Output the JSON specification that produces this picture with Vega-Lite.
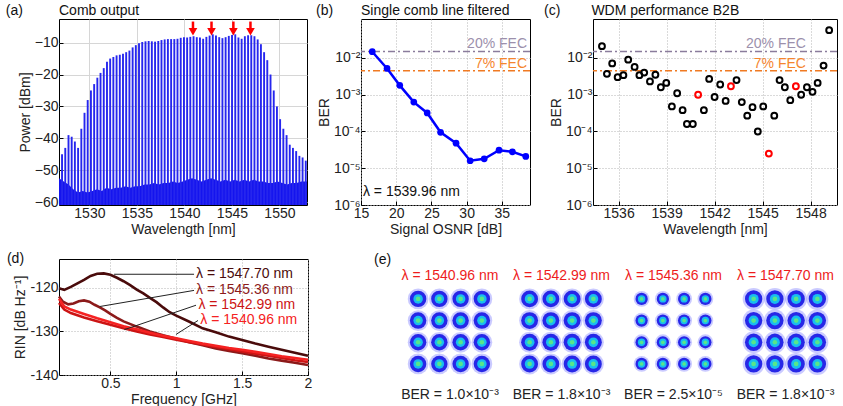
{
  "$schema": "https://vega.github.io/schema/vega-lite/v6.json",
  "padding": {"left": 5, "top": 3, "right": 0, "bottom": 0},
  "background": "white",
  "config": {
    "font": "Liberation Sans",
    "view": {"stroke": "#000", "strokeWidth": 1},
    "axis": {"labelFont": "Liberation Sans", "labelFontSize": 14, "titleFont": "Liberation Sans", "titleFontSize": 14, "titleFontWeight": "normal", "labelColor": "#222", "titleColor": "#222", "domain": false, "tickColor": "#000", "tickSize": -4, "labelPadding": 5, "titlePadding": 2, "gridColor": "#b5b5b5", "gridDash": [1, 2], "labelFlush": false, "labelOverlap": false},
    "text": {"font": "Liberation Sans", "fontSize": 14}
  },
  "datasets": {
    "spec": [
      {"x":1527.12,"y":-45},{"x":1527.46,"y":-43},{"x":1527.8,"y":-39},{"x":1528.135,"y":-39.5},{"x":1528.47,"y":-41},{"x":1528.81,"y":-43},{"x":1529.15,"y":-37},{"x":1529.485,"y":-32},{"x":1529.82,"y":-28},{"x":1530.16,"y":-25},{"x":1530.5,"y":-23},{"x":1530.835,"y":-21},{"x":1531.17,"y":-19.5},{"x":1531.51,"y":-18},{"x":1531.85,"y":-16},{"x":1532.185,"y":-15},{"x":1532.52,"y":-14.5},{"x":1532.86,"y":-14},{"x":1533.2,"y":-13.8},{"x":1533.535,"y":-13.5},{"x":1533.87,"y":-13},{"x":1534.21,"y":-12.5},{"x":1534.55,"y":-11.5},{"x":1534.885,"y":-10.8},{"x":1535.22,"y":-10.2},{"x":1535.56,"y":-9.8},{"x":1535.9,"y":-9.6},{"x":1536.235,"y":-9.5},{"x":1536.57,"y":-9.6},{"x":1536.91,"y":-9.7},{"x":1537.25,"y":-9.5},{"x":1537.585,"y":-9.2},{"x":1537.92,"y":-9.0},{"x":1538.26,"y":-8.9},{"x":1538.6,"y":-8.9},{"x":1538.935,"y":-8.9},{"x":1539.27,"y":-8.8},{"x":1539.61,"y":-8.5},{"x":1539.95,"y":-8.3},{"x":1540.285,"y":-8.4},{"x":1540.62,"y":-8.2},{"x":1540.96,"y":-8.0},{"x":1541.3,"y":-8.3},{"x":1541.635,"y":-8.4},{"x":1541.97,"y":-8.8},{"x":1542.31,"y":-8.2},{"x":1542.65,"y":-7.8},{"x":1542.985,"y":-7.4},{"x":1543.32,"y":-7.8},{"x":1543.66,"y":-8.3},{"x":1544.0,"y":-8.6},{"x":1544.335,"y":-8.3},{"x":1544.67,"y":-7.9},{"x":1545.01,"y":-7.6},{"x":1545.35,"y":-7.4},{"x":1545.685,"y":-8.4},{"x":1546.02,"y":-8.8},{"x":1546.36,"y":-8.0},{"x":1546.7,"y":-7.7},{"x":1547.035,"y":-7.7},{"x":1547.37,"y":-8.0},{"x":1547.71,"y":-9.0},{"x":1548.05,"y":-10.5},{"x":1548.385,"y":-13},{"x":1548.72,"y":-15.5},{"x":1549.06,"y":-20},{"x":1549.4,"y":-25},{"x":1549.735,"y":-30},{"x":1550.07,"y":-34},{"x":1550.41,"y":-37},{"x":1550.75,"y":-39},{"x":1551.085,"y":-42},{"x":1551.42,"y":-43},{"x":1551.76,"y":-44},{"x":1552.1,"y":-45.5},{"x":1552.435,"y":-46},{"x":1552.77,"y":-47}
    ],
    "floor": [
      {"x":1526.8,"y":-52.5},{"x":1527.3,"y":-53.5},{"x":1527.8,"y":-54.5},{"x":1528.3,"y":-56},{"x":1528.8,"y":-57},{"x":1529.3,"y":-56.5},{"x":1529.8,"y":-57},{"x":1530.3,"y":-56.5},{"x":1530.8,"y":-56},{"x":1531.3,"y":-56.5},{"x":1531.8,"y":-55.5},{"x":1532.3,"y":-56},{"x":1532.8,"y":-55.5},{"x":1533.3,"y":-55.5},{"x":1533.8,"y":-55},{"x":1534.3,"y":-55.5},{"x":1534.8,"y":-55},{"x":1535.3,"y":-55},{"x":1535.8,"y":-54.5},{"x":1536.3,"y":-54.5},{"x":1536.8,"y":-54},{"x":1537.3,"y":-54.5},{"x":1537.8,"y":-54},{"x":1538.3,"y":-54},{"x":1538.8,"y":-53.5},{"x":1539.3,"y":-54},{"x":1539.8,"y":-53.5},{"x":1540.3,"y":-53},{"x":1540.8,"y":-52.5},{"x":1541.3,"y":-53},{"x":1541.8,"y":-53.5},{"x":1542.3,"y":-53},{"x":1542.8,"y":-52.5},{"x":1543.3,"y":-53},{"x":1543.8,"y":-53.5},{"x":1544.3,"y":-53},{"x":1544.8,"y":-53.5},{"x":1545.3,"y":-53},{"x":1545.8,"y":-53.5},{"x":1546.3,"y":-53},{"x":1546.8,"y":-53.5},{"x":1547.3,"y":-53},{"x":1547.8,"y":-53.5},{"x":1548.3,"y":-53.5},{"x":1548.8,"y":-54},{"x":1549.3,"y":-54},{"x":1549.8,"y":-53.5},{"x":1550.3,"y":-54},{"x":1550.8,"y":-54.5},{"x":1551.3,"y":-54},{"x":1551.8,"y":-54},{"x":1552.3,"y":-53.5},{"x":1552.9,"y":-53.5}
    ],
    "arrows": [{"x":1540.9},{"x":1542.85},{"x":1545.15},{"x":1546.95}],
    "fec": [{"name":"20% FEC","y":0.015},{"name":"7% FEC","y":0.0045}],
    "osnr": [
      {"x":16.6,"y":0.0148},{"x":18.7,"y":0.0052},{"x":20.5,"y":0.0018},{"x":22.5,"y":0.00063},{"x":24.4,"y":0.00032},{"x":26.3,"y":0.000095},{"x":28.5,"y":0.000048},{"x":30.5,"y":0.000016},{"x":32.5,"y":0.000018},{"x":34.6,"y":0.000031},{"x":36.5,"y":0.000028},{"x":38.4,"y":0.000021}
    ],
    "wdm": [
      {"x":1534.96,"y":0.021,"sel":"n"},{"x":1535.27,"y":0.0037,"sel":"n"},{"x":1535.6,"y":0.0071,"sel":"n"},{"x":1535.94,"y":0.003,"sel":"n"},{"x":1536.3,"y":0.0034,"sel":"n"},{"x":1536.6,"y":0.009,"sel":"n"},{"x":1537.0,"y":0.0057,"sel":"n"},{"x":1537.3,"y":0.0034,"sel":"n"},{"x":1537.6,"y":0.004,"sel":"n"},{"x":1537.96,"y":0.0023,"sel":"n"},{"x":1538.3,"y":0.0035,"sel":"n"},{"x":1538.64,"y":0.0016,"sel":"n"},{"x":1538.98,"y":0.0021,"sel":"n"},{"x":1539.33,"y":0.00048,"sel":"n"},{"x":1539.66,"y":0.0011,"sel":"n"},{"x":1540.0,"y":0.00038,"sel":"n"},{"x":1540.27,"y":0.00016,"sel":"n"},{"x":1540.64,"y":0.00016,"sel":"n"},{"x":1540.97,"y":0.001,"sel":"r"},{"x":1541.33,"y":0.00038,"sel":"n"},{"x":1541.66,"y":0.0027,"sel":"n"},{"x":1542.0,"y":0.00087,"sel":"n"},{"x":1542.35,"y":0.0019,"sel":"n"},{"x":1542.69,"y":0.00068,"sel":"n"},{"x":1543.02,"y":0.0017,"sel":"r"},{"x":1543.37,"y":0.0025,"sel":"n"},{"x":1543.7,"y":0.00063,"sel":"n"},{"x":1544.04,"y":0.00027,"sel":"n"},{"x":1544.37,"y":0.00046,"sel":"n"},{"x":1544.7,"y":0.0001,"sel":"n"},{"x":1545.04,"y":0.00048,"sel":"n"},{"x":1545.39,"y":0.000025,"sel":"r"},{"x":1545.73,"y":0.00027,"sel":"n"},{"x":1546.06,"y":0.0025,"sel":"n"},{"x":1546.39,"y":0.0016,"sel":"n"},{"x":1546.73,"y":0.00071,"sel":"n"},{"x":1547.08,"y":0.0017,"sel":"r"},{"x":1547.41,"y":0.001,"sel":"n"},{"x":1547.77,"y":0.0016,"sel":"n"},{"x":1548.12,"y":0.0012,"sel":"n"},{"x":1548.44,"y":0.0021,"sel":"n"},{"x":1548.81,"y":0.0062,"sel":"n"},{"x":1549.16,"y":0.057,"sel":"n"}
    ],
    "rin": [
      {"s":"1547.70","x":0.11,"y":-120.1},{"s":"1547.70","x":0.15,"y":-120.5},{"s":"1547.70","x":0.2,"y":-119.8},{"s":"1547.70","x":0.25,"y":-119.0},{"s":"1547.70","x":0.3,"y":-118.2},{"s":"1547.70","x":0.35,"y":-117.3},{"s":"1547.70","x":0.4,"y":-116.8},{"s":"1547.70","x":0.45,"y":-116.7},{"s":"1547.70","x":0.5,"y":-117.0},{"s":"1547.70","x":0.55,"y":-117.7},{"s":"1547.70","x":0.6,"y":-118.5},{"s":"1547.70","x":0.65,"y":-119.4},{"s":"1547.70","x":0.7,"y":-120.4},{"s":"1547.70","x":0.75,"y":-121.3},{"s":"1547.70","x":0.8,"y":-122.3},{"s":"1547.70","x":0.85,"y":-123.3},{"s":"1547.70","x":0.9,"y":-124.5},{"s":"1547.70","x":0.95,"y":-125.6},{"s":"1547.70","x":1.0,"y":-126.4},{"s":"1547.70","x":1.1,"y":-127.8},{"s":"1547.70","x":1.2,"y":-129.3},{"s":"1547.70","x":1.3,"y":-130.2},{"s":"1547.70","x":1.4,"y":-131.2},{"s":"1547.70","x":1.5,"y":-132.0},{"s":"1547.70","x":1.6,"y":-132.8},{"s":"1547.70","x":1.7,"y":-133.5},{"s":"1547.70","x":1.8,"y":-134.2},{"s":"1547.70","x":1.9,"y":-134.9},{"s":"1547.70","x":2.0,"y":-135.6},
      {"s":"1545.36","x":0.11,"y":-122.0},{"s":"1545.36","x":0.14,"y":-123.2},{"s":"1545.36","x":0.18,"y":-123.8},{"s":"1545.36","x":0.22,"y":-123.6},{"s":"1545.36","x":0.26,"y":-123.1},{"s":"1545.36","x":0.3,"y":-122.9},{"s":"1545.36","x":0.34,"y":-123.2},{"s":"1545.36","x":0.38,"y":-123.9},{"s":"1545.36","x":0.42,"y":-124.5},{"s":"1545.36","x":0.46,"y":-125.2},{"s":"1545.36","x":0.5,"y":-126.0},{"s":"1545.36","x":0.55,"y":-126.9},{"s":"1545.36","x":0.6,"y":-127.7},{"s":"1545.36","x":0.7,"y":-128.9},{"s":"1545.36","x":0.8,"y":-130.0},{"s":"1545.36","x":0.9,"y":-130.9},{"s":"1545.36","x":1.0,"y":-131.7},{"s":"1545.36","x":1.1,"y":-132.5},{"s":"1545.36","x":1.2,"y":-133.2},{"s":"1545.36","x":1.3,"y":-133.9},{"s":"1545.36","x":1.4,"y":-134.5},{"s":"1545.36","x":1.5,"y":-135.0},{"s":"1545.36","x":1.6,"y":-135.6},{"s":"1545.36","x":1.7,"y":-136.2},{"s":"1545.36","x":1.8,"y":-136.7},{"s":"1545.36","x":1.9,"y":-137.2},{"s":"1545.36","x":2.0,"y":-137.7},
      {"s":"1542.99","x":0.11,"y":-123.5},{"s":"1542.99","x":0.15,"y":-125.0},{"s":"1542.99","x":0.2,"y":-125.8},{"s":"1542.99","x":0.3,"y":-126.8},{"s":"1542.99","x":0.4,"y":-127.7},{"s":"1542.99","x":0.5,"y":-128.5},{"s":"1542.99","x":0.6,"y":-129.3},{"s":"1542.99","x":0.7,"y":-130.0},{"s":"1542.99","x":0.8,"y":-130.7},{"s":"1542.99","x":0.9,"y":-131.3},{"s":"1542.99","x":1.0,"y":-131.9},{"s":"1542.99","x":1.1,"y":-132.5},{"s":"1542.99","x":1.2,"y":-133.0},{"s":"1542.99","x":1.3,"y":-133.6},{"s":"1542.99","x":1.4,"y":-134.1},{"s":"1542.99","x":1.5,"y":-134.6},{"s":"1542.99","x":1.6,"y":-135.1},{"s":"1542.99","x":1.7,"y":-135.6},{"s":"1542.99","x":1.8,"y":-136.1},{"s":"1542.99","x":1.9,"y":-136.6},{"s":"1542.99","x":2.0,"y":-137.0},
      {"s":"1540.96","x":0.11,"y":-122.5},{"s":"1540.96","x":0.15,"y":-124.3},{"s":"1540.96","x":0.2,"y":-125.0},{"s":"1540.96","x":0.3,"y":-126.0},{"s":"1540.96","x":0.4,"y":-127.0},{"s":"1540.96","x":0.5,"y":-127.9},{"s":"1540.96","x":0.6,"y":-128.8},{"s":"1540.96","x":0.7,"y":-129.5},{"s":"1540.96","x":0.8,"y":-130.3},{"s":"1540.96","x":0.9,"y":-131.0},{"s":"1540.96","x":1.0,"y":-131.6},{"s":"1540.96","x":1.1,"y":-132.2},{"s":"1540.96","x":1.2,"y":-132.8},{"s":"1540.96","x":1.3,"y":-133.3},{"s":"1540.96","x":1.4,"y":-133.8},{"s":"1540.96","x":1.5,"y":-134.2},{"s":"1540.96","x":1.6,"y":-134.7},{"s":"1540.96","x":1.7,"y":-135.2},{"s":"1540.96","x":1.8,"y":-135.7},{"s":"1540.96","x":1.9,"y":-136.1},{"s":"1540.96","x":2.0,"y":-136.5}
    ],
    "leaders": [
      {"x":0.528,"y":-116.9,"x2":1.135,"y2":-116.9},
      {"x":0.419,"y":-124.3,"x2":1.135,"y2":-120.6},
      {"x":0.606,"y":-129.6,"x2":1.15,"y2":-124.0},
      {"x":0.998,"y":-130.7,"x2":1.165,"y2":-127.5}
    ],
    "rinlab": [
      {"s":"1547.70","t":"λ = 1547.70 nm","x":1.15,"y":-116.9},
      {"s":"1545.36","t":"λ = 1545.36 nm","x":1.15,"y":-120.6},
      {"s":"1542.99","t":"λ = 1542.99 nm","x":1.168,"y":-124.0},
      {"s":"1540.96","t":"λ = 1540.96 nm","x":1.183,"y":-127.5}
    ],
    "qam": [
      {"i":-1.5,"q":1.5},{"i":-0.5,"q":1.5},{"i":0.5,"q":1.5},{"i":1.5,"q":1.5},
      {"i":-1.5,"q":0.5},{"i":-0.5,"q":0.5},{"i":0.5,"q":0.5},{"i":1.5,"q":0.5},
      {"i":-1.5,"q":-0.5},{"i":-0.5,"q":-0.5},{"i":0.5,"q":-0.5},{"i":1.5,"q":-0.5},
      {"i":-1.5,"q":-1.5},{"i":-0.5,"q":-1.5},{"i":0.5,"q":-1.5},{"i":1.5,"q":-1.5}
    ],
    "elab": [
      {"g":1,"lam":"λ = 1540.96 nm","ber":"BER = 1.0×10⁻³"},
      {"g":2,"lam":"λ = 1542.99 nm","ber":"BER = 1.8×10⁻³"},
      {"g":3,"lam":"λ = 1545.36 nm","ber":"BER = 2.5×10⁻⁵"},
      {"g":4,"lam":"λ = 1547.70 nm","ber":"BER = 1.8×10⁻³"}
    ]
  },
  "bounds": "flush",
  "columns": 5,
  "align": "each",
  "spacing": {"row": 54, "column": 0},
  "concat": [
    {
      "width": 248, "height": 186,
      "layer": [
        {"data": {"name": "floor"}, "mark": {"type": "area", "color": "#1414ee", "opacity": 1},
         "encoding": {
           "x": {"field": "x", "type": "quantitative", "scale": {"domain": [1526.8, 1552.9], "nice": false, "zero": false}, "axis": {"title": "Wavelength [nm]", "values": [1530, 1535, 1540, 1545, 1550], "format": "d", "grid": true, "gridDash": [], "gridColor": "#d6d6d6"}},
           "y": {"field": "y", "type": "quantitative", "scale": {"domain": [-60.9, -2.6], "nice": false, "zero": false}, "axis": {"title": "Power [dBm]", "values": [-60, -50, -40, -30, -20, -10], "tickCount": 6, "format": "d", "labelOverlap": false, "grid": true, "gridDash": [], "gridColor": "#d6d6d6"}},
           "y2": {"datum": -60.9}}},
        {"data": {"name": "spec"}, "mark": {"type": "rule", "color": "#2626ee", "strokeWidth": 1.9},
         "encoding": {
           "x": {"field": "x", "type": "quantitative", "axis": {"title": "Wavelength [nm]", "values": [1530, 1535, 1540, 1545, 1550], "format": "d", "grid": true, "gridDash": [], "gridColor": "#d6d6d6"}},
           "y": {"field": "y", "type": "quantitative", "axis": {"title": "Power [dBm]", "values": [-60, -50, -40, -30, -20, -10], "tickCount": 6, "format": "d", "labelOverlap": false, "grid": true, "gridDash": [], "gridColor": "#d6d6d6"}},
           "y2": {"datum": -60.9}}},
        {"data": {"name": "arrows"}, "mark": {"type": "rule", "color": "#ff0000", "strokeWidth": 2.5},
         "encoding": {"x": {"field": "x", "type": "quantitative", "axis": {"title": "Wavelength [nm]", "values": [1530, 1535, 1540, 1545, 1550], "format": "d", "grid": true, "gridDash": [], "gridColor": "#d6d6d6"}}, "y": {"datum": -3.4}, "y2": {"datum": -6.0}}},
        {"data": {"name": "arrows"}, "mark": {"type": "point", "shape": "triangle-down", "filled": true, "color": "#ff0000", "opacity": 1, "size": 75},
         "encoding": {"x": {"field": "x", "type": "quantitative", "axis": {"title": "Wavelength [nm]", "values": [1530, 1535, 1540, 1545, 1550], "format": "d", "grid": true, "gridDash": [], "gridColor": "#d6d6d6"}}, "y": {"datum": -6.6}}},
        {"data": {"values": [{"t": "(a)"}]}, "mark": {"type": "text", "align": "left", "baseline": "middle", "color": "#111"}, "encoding": {"x": {"datum": 1521.2}, "y": {"datum": -0.1}, "text": {"field": "t"}}},
        {"data": {"values": [{"t": "Comb output"}]}, "mark": {"type": "text", "align": "left", "baseline": "middle", "color": "#111"}, "encoding": {"x": {"datum": 1526.8}, "y": {"datum": -0.1}, "text": {"field": "t"}}}
      ]
    },
    {"width": 53, "height": 186, "view": {"stroke": null}, "data": {"values": []}, "mark": "point"},
    {
      "width": 169, "height": 186,
      "layer": [
        {"data": {"name": "fec"}, "transform": [{"filter": "datum.name == '20% FEC'"}], "mark": {"type": "rule", "color": "#8a7c9c", "strokeWidth": 1.5, "strokeDash": [7, 3, 2, 3]}, "encoding": {"y": {"field": "y", "type": "quantitative", "title": "BER"}}},
        {"data": {"name": "fec"}, "transform": [{"filter": "datum.name == '7% FEC'"}], "mark": {"type": "rule", "color": "#f07a22", "strokeWidth": 1.5, "strokeDash": [7, 3, 2, 3]}, "encoding": {"y": {"field": "y", "type": "quantitative", "title": "BER"}}},
        {"data": {"name": "fec"}, "transform": [{"filter": "datum.name == '20% FEC'"}], "mark": {"type": "text", "align": "right", "baseline": "alphabetic", "dy": -4, "color": "#9c90ac"}, "encoding": {"x": {"datum": 38.58}, "y": {"field": "y", "type": "quantitative", "title": "BER"}, "text": {"field": "name"}}},
        {"data": {"name": "fec"}, "transform": [{"filter": "datum.name == '7% FEC'"}], "mark": {"type": "text", "align": "right", "baseline": "alphabetic", "dy": -3, "color": "#f5852e"}, "encoding": {"x": {"datum": 38.58}, "y": {"field": "y", "type": "quantitative", "title": "BER"}, "text": {"field": "name"}}},
        {
          "data": {"name": "osnr"},
          "mark": {"type": "line", "color": "#0000ff", "strokeWidth": 2.5, "point": {"filled": true, "size": 45, "color": "#0000ff"}},
          "encoding": {
            "x": {"field": "x", "type": "quantitative", "scale": {"domain": [15, 39], "nice": false, "zero": false}, "axis": {"title": "Signal OSNR [dB]", "values": [15, 20, 25, 30, 35], "grid": true}},
            "y": {"field": "y", "type": "quantitative", "title": "BER", "scale": {"type": "log", "domain": [0.000001, 0.115], "nice": false}, "axis": {"values": [0.000001, 0.00001, 0.0001, 0.001, 0.01], "grid": true, "labelExpr": "datum.value > 0.005 ? '10⁻²' : datum.value > 0.0005 ? '10⁻³' : datum.value > 0.00005 ? '10⁻⁴' : datum.value > 0.000005 ? '10⁻⁵' : '10⁻⁶'"}}
          }
        },
        {"data": {"values": [{"t": "λ = 1539.96 nm"}]}, "mark": {"type": "text", "align": "left", "baseline": "middle", "color": "#111"}, "encoding": {"x": {"datum": 15.28}, "y": {"datum": 0.00000226}, "text": {"field": "t"}}},
        {"data": {"values": [{"t": "(b)"}]}, "mark": {"type": "text", "align": "left", "baseline": "middle", "color": "#111"}, "encoding": {"x": {"datum": 8.61}, "y": {"datum": 0.19}, "text": {"field": "t"}}},
        {"data": {"values": [{"t": "Single comb line filtered"}]}, "mark": {"type": "text", "align": "left", "baseline": "middle", "color": "#111"}, "encoding": {"x": {"datum": 15}, "y": {"datum": 0.19}, "text": {"field": "t"}}}
      ]
    },
    {"width": 63, "height": 186, "view": {"stroke": null}, "data": {"values": []}, "mark": "point"},
    {
      "width": 244, "height": 186,
      "layer": [
        {"data": {"name": "fec"}, "transform": [{"filter": "datum.name == '20% FEC'"}], "mark": {"type": "rule", "color": "#8a7c9c", "strokeWidth": 1.5, "strokeDash": [7, 3, 2, 3]}, "encoding": {"y": {"field": "y", "type": "quantitative", "title": "BER"}}},
        {"data": {"name": "fec"}, "transform": [{"filter": "datum.name == '7% FEC'"}], "mark": {"type": "rule", "color": "#f07a22", "strokeWidth": 1.5, "strokeDash": [7, 3, 2, 3]}, "encoding": {"y": {"field": "y", "type": "quantitative", "title": "BER"}}},
        {"data": {"name": "fec"}, "transform": [{"filter": "datum.name == '20% FEC'"}], "mark": {"type": "text", "align": "right", "baseline": "alphabetic", "dy": -4, "color": "#9c90ac"}, "encoding": {"x": {"datum": 1547.71}, "y": {"field": "y", "type": "quantitative", "title": "BER"}, "text": {"field": "name"}}},
        {"data": {"name": "fec"}, "transform": [{"filter": "datum.name == '7% FEC'"}], "mark": {"type": "text", "align": "right", "baseline": "alphabetic", "dy": -3, "color": "#f5852e"}, "encoding": {"x": {"datum": 1547.71}, "y": {"field": "y", "type": "quantitative", "title": "BER"}, "text": {"field": "name"}}},
        {
          "data": {"name": "wdm"},
          "transform": [{"filter": "datum.sel == 'n'"}],
          "mark": {"type": "point", "filled": false, "color": "#000", "strokeWidth": 2, "size": 34, "opacity": 1},
          "encoding": {
            "x": {"field": "x", "type": "quantitative", "scale": {"domain": [1534.4, 1549.65], "nice": false, "zero": false}, "axis": {"title": "Wavelength [nm]", "values": [1536, 1539, 1542, 1545, 1548], "format": "d", "grid": true}},
            "y": {"field": "y", "type": "quantitative", "title": "BER", "scale": {"type": "log", "domain": [0.000001, 0.115], "nice": false}, "axis": {"values": [0.000001, 0.00001, 0.0001, 0.001, 0.01], "grid": true, "labelExpr": "datum.value > 0.005 ? '10⁻²' : datum.value > 0.0005 ? '10⁻³' : datum.value > 0.00005 ? '10⁻⁴' : datum.value > 0.000005 ? '10⁻⁵' : '10⁻⁶'"}}
          }
        },
        {
          "data": {"name": "wdm"},
          "transform": [{"filter": "datum.sel == 'r'"}],
          "mark": {"type": "point", "filled": false, "color": "#ff0000", "strokeWidth": 2, "size": 34, "opacity": 1},
          "encoding": {
            "x": {"field": "x", "type": "quantitative", "title": "Wavelength [nm]"},
            "y": {"field": "y", "type": "quantitative", "title": "BER"}
          }
        },
        {"data": {"values": [{"t": "(c)"}]}, "mark": {"type": "text", "align": "left", "baseline": "middle", "color": "#111"}, "encoding": {"x": {"datum": 1531.34}, "y": {"datum": 0.19}, "text": {"field": "t"}}},
        {"data": {"values": [{"t": "WDM performance B2B"}]}, "mark": {"type": "text", "align": "left", "baseline": "middle", "color": "#111"}, "encoding": {"x": {"datum": 1534.3}, "y": {"datum": 0.19}, "text": {"field": "t"}}}
      ]
    },
    {
      "width": 249, "height": 116,
      "layer": [
        {"data": {"name": "rin"}, "mark": {"type": "line", "strokeWidth": 2.6},
         "encoding": {
           "x": {"field": "x", "type": "quantitative", "scale": {"domain": [0.11, 2.0], "nice": false, "zero": false}, "axis": {"title": "Frequency [GHz]", "values": [0.5, 1, 1.5, 2], "format": "~g", "grid": true}},
           "y": {"field": "y", "type": "quantitative", "scale": {"domain": [-140, -113.4], "nice": false, "zero": false}, "axis": {"title": "RIN [dB Hz⁻¹]", "values": [-140, -130, -120], "labelExpr": "'' + datum.value", "labelOverlap": false, "grid": true}},
           "color": {"field": "s", "type": "nominal", "scale": {"domain": ["1547.70", "1545.36", "1542.99", "1540.96"], "range": ["#4a0b0b", "#8c1a1a", "#cc1414", "#f52222"]}, "legend": null},
           "order": {"field": "x", "type": "quantitative"}}},
        {"data": {"name": "leaders"}, "mark": {"type": "rule", "color": "#222", "strokeWidth": 1},
         "encoding": {"x": {"field": "x", "type": "quantitative", "title": "Frequency [GHz]"}, "y": {"field": "y", "type": "quantitative", "title": "RIN [dB Hz⁻¹]"}, "x2": {"field": "x2"}, "y2": {"field": "y2"}}},
        {"data": {"name": "rinlab"}, "mark": {"type": "text", "align": "left", "baseline": "middle"},
         "encoding": {"x": {"field": "x", "type": "quantitative", "title": "Frequency [GHz]"}, "y": {"field": "y", "type": "quantitative", "title": "RIN [dB Hz⁻¹]"}, "text": {"field": "t"}, "color": {"field": "s", "type": "nominal", "legend": null}}},
        {"data": {"values": [{"t": "(d)"}]}, "mark": {"type": "text", "align": "left", "baseline": "middle", "color": "#111"}, "encoding": {"x": {"datum": -0.285}, "y": {"datum": -113.4}, "text": {"field": "t"}}}
      ]
    },
    {
      "width": 53, "height": 116, "view": {"stroke": null},
      "layer": [
        {"data": {"name": "qam"}, "mark": {"type": "circle", "color": "#5050ff", "opacity": 0.3, "size": 430},
         "encoding": {"x": {"field": "i", "type": "quantitative", "scale": {"domain": [-6.682, -4.188], "nice": false, "zero": false}, "axis": null}, "y": {"field": "q", "type": "quantitative", "scale": {"domain": [-2.01, 3.34], "nice": false, "zero": false}, "axis": null}}},
        {"data": {"name": "qam"}, "mark": {"type": "circle", "color": "#1e1ee6", "opacity": 0.95, "size": 270}, "encoding": {"x": {"field": "i", "type": "quantitative"}, "y": {"field": "q", "type": "quantitative"}}},
        {"data": {"name": "qam"}, "mark": {"type": "circle", "color": "#18bdf0", "opacity": 1, "size": 90}, "encoding": {"x": {"field": "i", "type": "quantitative"}, "y": {"field": "q", "type": "quantitative"}}},
        {"data": {"name": "qam"}, "mark": {"type": "circle", "color": "#58e68a", "opacity": 1, "size": 22}, "encoding": {"x": {"field": "i", "type": "quantitative"}, "y": {"field": "q", "type": "quantitative"}}},
        {"data": {"name": "elab"}, "transform": [{"filter": "datum.g == 1"}], "mark": {"type": "text", "color": "#ee1c1c", "baseline": "middle"}, "encoding": {"x": {"datum": 0}, "y": {"datum": 2.56}, "text": {"field": "lam"}}},
        {"data": {"name": "elab"}, "transform": [{"filter": "datum.g == 1"}], "mark": {"type": "text", "color": "#222", "baseline": "middle"}, "encoding": {"x": {"datum": 0}, "y": {"datum": -2.93}, "text": {"field": "ber"}}},
        {"data": {"values": [{"t": "(e)"}]}, "mark": {"type": "text", "align": "left", "baseline": "middle", "color": "#111"}, "encoding": {"x": {"datum": -3.576}, "y": {"datum": 3.29}, "text": {"field": "t"}}}
      ]
    },
    {
      "width": 169, "height": 116, "view": {"stroke": null},
      "layer": [
        {"data": {"name": "qam"}, "mark": {"type": "circle", "color": "#5050ff", "opacity": 0.3, "size": 440},
         "encoding": {"x": {"field": "i", "type": "quantitative", "scale": {"domain": [-9.435, -1.482], "nice": false, "zero": false}, "axis": null}, "y": {"field": "q", "type": "quantitative", "scale": {"domain": [-2.01, 3.34], "nice": false, "zero": false}, "axis": null}}},
        {"data": {"name": "qam"}, "mark": {"type": "circle", "color": "#1e1ee6", "opacity": 0.95, "size": 285}, "encoding": {"x": {"field": "i", "type": "quantitative"}, "y": {"field": "q", "type": "quantitative"}}},
        {"data": {"name": "qam"}, "mark": {"type": "circle", "color": "#18bdf0", "opacity": 1, "size": 95}, "encoding": {"x": {"field": "i", "type": "quantitative"}, "y": {"field": "q", "type": "quantitative"}}},
        {"data": {"name": "qam"}, "mark": {"type": "circle", "color": "#58e68a", "opacity": 1, "size": 22}, "encoding": {"x": {"field": "i", "type": "quantitative"}, "y": {"field": "q", "type": "quantitative"}}},
        {"data": {"name": "elab"}, "transform": [{"filter": "datum.g == 2"}], "mark": {"type": "text", "color": "#ee1c1c", "baseline": "middle"}, "encoding": {"x": {"datum": 0}, "y": {"datum": 2.56}, "text": {"field": "lam"}}},
        {"data": {"name": "elab"}, "transform": [{"filter": "datum.g == 2"}], "mark": {"type": "text", "color": "#222", "baseline": "middle"}, "encoding": {"x": {"datum": 0}, "y": {"datum": -2.93}, "text": {"field": "ber"}}}
      ]
    },
    {
      "width": 63, "height": 116, "view": {"stroke": null},
      "layer": [
        {"data": {"name": "qam"}, "mark": {"type": "circle", "color": "#5050ff", "opacity": 0.3, "size": 250},
         "encoding": {"x": {"field": "i", "type": "quantitative", "scale": {"domain": [-6.753, -3.788], "nice": false, "zero": false}, "axis": null}, "y": {"field": "q", "type": "quantitative", "scale": {"domain": [-2.01, 3.34], "nice": false, "zero": false}, "axis": null}}},
        {"data": {"name": "qam"}, "mark": {"type": "circle", "color": "#1e1ee6", "opacity": 0.95, "size": 150}, "encoding": {"x": {"field": "i", "type": "quantitative"}, "y": {"field": "q", "type": "quantitative"}}},
        {"data": {"name": "qam"}, "mark": {"type": "circle", "color": "#18bdf0", "opacity": 1, "size": 55}, "encoding": {"x": {"field": "i", "type": "quantitative"}, "y": {"field": "q", "type": "quantitative"}}},
        {"data": {"name": "qam"}, "mark": {"type": "circle", "color": "#58e68a", "opacity": 1, "size": 14}, "encoding": {"x": {"field": "i", "type": "quantitative"}, "y": {"field": "q", "type": "quantitative"}}},
        {"data": {"name": "elab"}, "transform": [{"filter": "datum.g == 3"}], "mark": {"type": "text", "color": "#ee1c1c", "baseline": "middle"}, "encoding": {"x": {"datum": 0}, "y": {"datum": 2.56}, "text": {"field": "lam"}}},
        {"data": {"name": "elab"}, "transform": [{"filter": "datum.g == 3"}], "mark": {"type": "text", "color": "#222", "baseline": "middle"}, "encoding": {"x": {"datum": 0}, "y": {"datum": -2.93}, "text": {"field": "ber"}}}
      ]
    },
    {
      "width": 244, "height": 116, "view": {"stroke": null},
      "layer": [
        {"data": {"name": "qam"}, "mark": {"type": "circle", "color": "#5050ff", "opacity": 0.3, "size": 480},
         "encoding": {"x": {"field": "i", "type": "quantitative", "scale": {"domain": [-9.059, 2.423], "nice": false, "zero": false}, "axis": null}, "y": {"field": "q", "type": "quantitative", "scale": {"domain": [-2.01, 3.34], "nice": false, "zero": false}, "axis": null}}},
        {"data": {"name": "qam"}, "mark": {"type": "circle", "color": "#1e1ee6", "opacity": 0.95, "size": 300}, "encoding": {"x": {"field": "i", "type": "quantitative"}, "y": {"field": "q", "type": "quantitative"}}},
        {"data": {"name": "qam"}, "mark": {"type": "circle", "color": "#18bdf0", "opacity": 1, "size": 100}, "encoding": {"x": {"field": "i", "type": "quantitative"}, "y": {"field": "q", "type": "quantitative"}}},
        {"data": {"name": "qam"}, "mark": {"type": "circle", "color": "#58e68a", "opacity": 1, "size": 22}, "encoding": {"x": {"field": "i", "type": "quantitative"}, "y": {"field": "q", "type": "quantitative"}}},
        {"data": {"name": "elab"}, "transform": [{"filter": "datum.g == 4"}], "mark": {"type": "text", "color": "#ee1c1c", "baseline": "middle"}, "encoding": {"x": {"datum": 0}, "y": {"datum": 2.56}, "text": {"field": "lam"}}},
        {"data": {"name": "elab"}, "transform": [{"filter": "datum.g == 4"}], "mark": {"type": "text", "color": "#222", "baseline": "middle"}, "encoding": {"x": {"datum": 0}, "y": {"datum": -2.93}, "text": {"field": "ber"}}}
      ]
    }
  ]
}
